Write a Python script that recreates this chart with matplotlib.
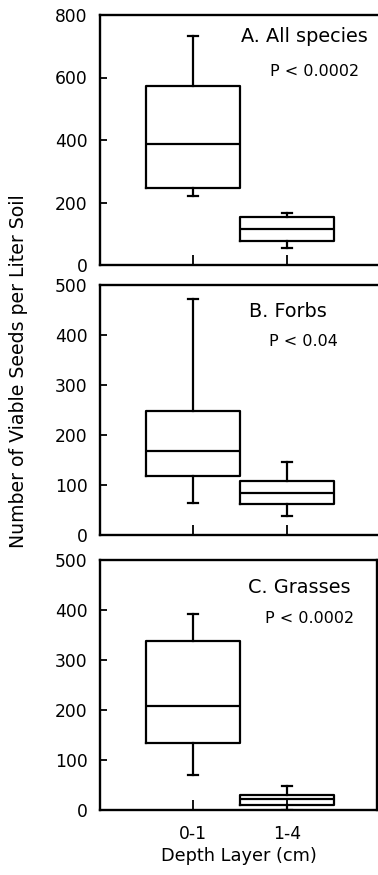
import matplotlib
matplotlib.use("Agg")
import matplotlib.pyplot as plt

plt.rcParams['font.family'] = ['DejaVu Sans']

depths = ["0-1", "1-4"]
panel_titles = ["A. All species", "B. Forbs", "C. Grasses"]
p_values = ["P < 0.0002", "P < 0.04", "P < 0.0002"]

# five-number summaries: whisker low, Q1, median, Q3, whisker high
all_species = [[222, 247, 387, 573, 733], [53, 78, 116, 155, 167]]
forbs = [[65, 119, 169, 249, 473], [39, 63, 85, 108, 147]]
grasses = [[70, 134, 208, 339, 392], [1, 11, 23, 31, 48]]

y_max = [800, 500, 500]
y_step = [200, 100, 100]

W, H = 378, 875
fig = plt.figure(figsize=(W / 100, H / 100), dpi=100)

left_px, right_px = 100, 377
panel_px = [(15, 265), (285, 535), (560, 810)]
title_pos = [(0.509, 0.892), (0.538, 0.873), (0.534, 0.868)]
p_pos = [(0.614, 0.756), (0.610, 0.756), (0.596, 0.748)]

datasets = [all_species, forbs, grasses]
for i, (data, (top, bot)) in enumerate(zip(datasets, panel_px)):
    ax = fig.add_axes([left_px / W, (H - bot) / H, (right_px - left_px) / W, (bot - top) / H])
    stats = []
    for d, lab in zip(data, depths):
        stats.append(dict(whislo=d[0], q1=d[1], med=d[2], q3=d[3], whishi=d[4], label=lab))
    lw = 1.6
    ax.bxp(stats, positions=[1, 2], widths=1.0, showfliers=False, capwidths=0.1,
           boxprops=dict(color='black', linewidth=lw),
           whiskerprops=dict(color='black', linewidth=lw),
           capprops=dict(color='black', linewidth=lw),
           medianprops=dict(color='black', linewidth=lw))
    ax.set_xlim(0.01, 2.957)
    ax.set_ylim(0, y_max[i])
    ax.set_yticks(range(0, y_max[i] + 1, y_step[i]))
    ax.set_xticks([1, 2])
    for s in ax.spines.values():
        s.set_linewidth(1.7)
    if i < 2:
        ax.spines['right'].set_visible(False)
        ax.set_xticklabels([])
    else:
        ax.set_xticklabels(depths)
        ax.set_xlabel("Depth Layer (cm)", fontsize=12.8, labelpad=3)
    ax.tick_params(axis='y', direction='in', length=5, width=1.3, labelsize=12.3, pad=9)
    ax.tick_params(axis='x', direction='in', length=7, width=1.3, labelsize=12.3, pad=11)
    ax.text(title_pos[i][0], title_pos[i][1], panel_titles[i], transform=ax.transAxes,
            fontsize=13.9, ha='left', va='baseline')
    ax.text(p_pos[i][0], p_pos[i][1], p_values[i], transform=ax.transAxes,
            fontsize=11.5, ha='left', va='baseline')

fig.text(19 / W, (H - 371) / H, "Number of Viable Seeds per Liter Soil", rotation=90,
         ha='center', va='center', fontsize=13.6)

fig.savefig("out.png", dpi=100)
